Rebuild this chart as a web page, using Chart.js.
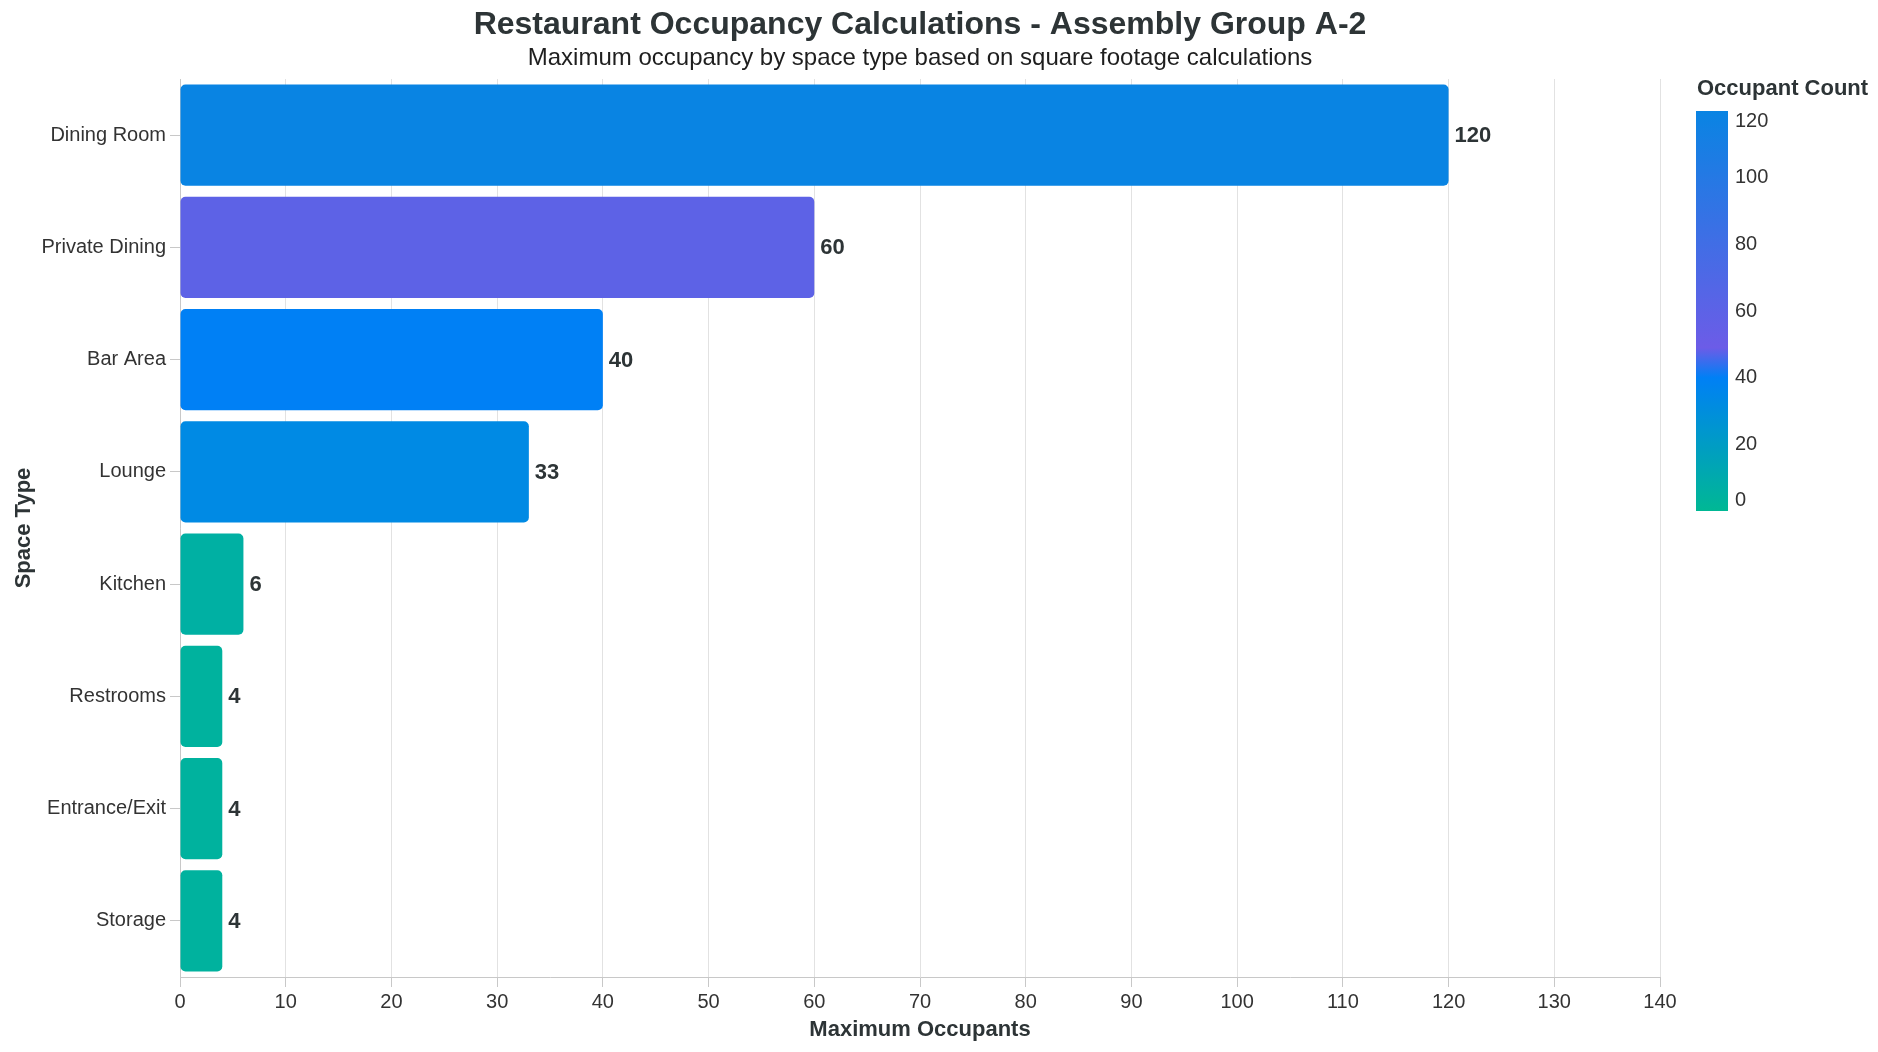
<!DOCTYPE html>
<html>
<head>
<meta charset="utf-8">
<script src="https://cdn.jsdelivr.net/npm/chart.js@4.4.1/dist/chart.umd.min.js"></script>
<style>
  html, body { margin: 0; padding: 0; background: #ffffff; }
  #wrap { width: 1878px; height: 1052px; position: relative; }
  canvas { display: block; }
</style>
</head>
<body>
<div id="wrap"><canvas id="chart" width="1878" height="1052"></canvas></div>
<script>
// ---- data ----
const spaceTypes = ['Dining Room', 'Private Dining', 'Bar Area', 'Lounge', 'Kitchen', 'Restrooms', 'Entrance/Exit', 'Storage'];
const maxOccupants = [120, 60, 40, 33, 6, 4, 4, 4];
const xTickValues = [0, 10, 20, 30, 40, 50, 60, 70, 80, 90, 100, 110, 120, 130, 140];
const legendTickValues = [0, 20, 40, 60, 80, 100, 120];
const colorDomain = [0, 120];
const chartTitle = 'Restaurant Occupancy Calculations - Assembly Group A-2';
const chartSubtitle = 'Maximum occupancy by space type based on square footage calculations';
const xAxisTitle = 'Maximum Occupants';
const yAxisTitle = 'Space Type';
const legendTitle = 'Occupant Count';

// ---- styles ----
const FONT = "'Liberation Sans', Arial, Helvetica, sans-serif";
const DARK = '#2d3436';
const colorStops = [[0, '#00b894'], [40, '#0080f5'], [49, '#6c5ce7'], [120, '#0984e3']];

function hexToRgb(h) { const n = parseInt(h.slice(1), 16); return [(n >> 16) & 255, (n >> 8) & 255, n & 255]; }
function colorFor(v) {
  for (let i = 0; i < colorStops.length - 1; i++) {
    const [v0, c0] = colorStops[i], [v1, c1] = colorStops[i + 1];
    if (v >= v0 && v <= v1) {
      const t = (v - v0) / (v1 - v0);
      const a = hexToRgb(c0), b = hexToRgb(c1);
      const r = a.map((x, k) => Math.round(x + (b[k] - x) * t));
      return `rgb(${r[0]},${r[1]},${r[2]})`;
    }
  }
  return colorStops[colorStops.length - 1][1];
}

Chart.defaults.font.family = FONT;

const valueLabels = {
  id: 'valueLabels',
  afterDatasetsDraw(chart) {
    const ctx = chart.ctx;
    const meta = chart.getDatasetMeta(0);
    ctx.save();
    ctx.font = `bold 22px ${FONT}`;
    ctx.fillStyle = DARK;
    ctx.textAlign = 'left';
    ctx.textBaseline = 'middle';
    meta.data.forEach((bar, i) => {
      ctx.fillText(String(maxOccupants[i]), bar.x + 6, bar.y + 1);
    });
    ctx.restore();
  }
};

const gradientLegend = {
  id: 'gradientLegend',
  afterDraw(chart) {
    const ctx = chart.ctx;
    const area = chart.chartArea;
    const x0 = area.right + 36, w = 32;
    const top = area.top + 32, len = 400, bottom = top + len;
    ctx.save();
    ctx.font = `bold 22px ${FONT}`;
    ctx.fillStyle = DARK;
    ctx.textAlign = 'left';
    ctx.textBaseline = 'alphabetic';
    ctx.fillText(legendTitle, x0 + 1, area.top + 16);
    const g = ctx.createLinearGradient(0, bottom, 0, top);
    colorStops.forEach(([v, c]) => g.addColorStop((v - colorDomain[0]) / (colorDomain[1] - colorDomain[0]), c));
    ctx.fillStyle = g;
    ctx.fillRect(x0, top, w, len);
    ctx.font = `20px ${FONT}`;
    ctx.fillStyle = '#333333';
    legendTickValues.forEach((v) => {
      const y = bottom - (v - colorDomain[0]) / (colorDomain[1] - colorDomain[0]) * len;
      ctx.textBaseline = v === colorDomain[1] ? 'top' : (v === colorDomain[0] ? 'bottom' : 'middle');
      ctx.fillText(String(v), x0 + w + 7, v === colorDomain[1] ? y : (v === colorDomain[0] ? y - 1 : y));
    });
    ctx.restore();
  }
};

new Chart(document.getElementById('chart'), {
  type: 'bar',
  data: {
    labels: spaceTypes,
    datasets: [{
      data: maxOccupants,
      backgroundColor: maxOccupants.map(colorFor),
      borderRadius: 5,
      borderSkipped: false,
      categoryPercentage: 0.9,
      barPercentage: 1.0
    }]
  },
  options: {
    indexAxis: 'y',
    responsive: false,
    animation: false,
    devicePixelRatio: 1,
    layout: { padding: { left: 0, right: 218, top: 0, bottom: 0 } },
    plugins: {
      legend: { display: false },
      tooltip: { enabled: false },
      title: {
        display: true, text: chartTitle, color: DARK, fullSize: false,
        font: { size: 32, weight: 'bold', lineHeight: 1 },
        padding: { top: 9, bottom: 0 }
      },
      subtitle: {
        display: true, text: chartSubtitle, color: '#1e1e1e', fullSize: false,
        font: { size: 24, weight: 'normal', lineHeight: 1 },
        padding: { top: 5, bottom: 9 }
      }
    },
    scales: {
      x: {
        type: 'linear', position: 'bottom', min: xTickValues[0], max: xTickValues[xTickValues.length - 1],
        afterBuildTicks: (s) => { s.ticks = xTickValues.map(v => ({ value: v })); },
        ticks: { font: { size: 20 }, color: '#333333', padding: 3, maxRotation: 0 },
        grid: { color: '#e2e2e2', tickColor: '#c8c8c8', tickLength: 10, lineWidth: 1 },
        border: { display: true, color: '#c8c8c8', width: 1 },
        title: { display: true, text: xAxisTitle, color: DARK, font: { size: 22, weight: 'bold' }, padding: { top: 0, bottom: 9 } },
        afterFit: (s) => { s.height = 75; }
      },
      y: {
        type: 'category', offset: true,
        ticks: { font: { size: 20 }, color: '#333333', padding: 4 },
        grid: { display: true, drawOnChartArea: false, drawTicks: true, tickLength: 10, tickColor: '#c8c8c8', offset: false },
        border: { display: true, color: '#c8c8c8', width: 1 },
        title: { display: true, text: yAxisTitle, color: DARK, font: { size: 22, weight: 'bold' }, padding: { top: 11, bottom: 0 } },
        afterFit: (s) => { s.width = 180; }
      }
    }
  },
  plugins: [valueLabels, gradientLegend]
});
</script>
</body>
</html>
